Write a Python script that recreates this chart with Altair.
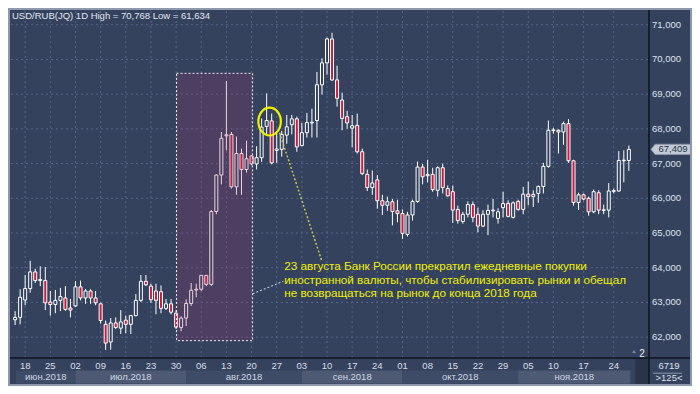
import altair as alt
import pandas as pd

# ---------------- data ----------------
opens = [62.50, 62.57, 63.07, 63.40, 63.88, 63.63, 63.63, 63.01, 62.94, 63.06,
         63.13, 62.84, 62.90, 63.45, 63.13, 63.33, 63.13, 62.96, 62.37, 61.86,
         62.41, 62.26, 62.49, 62.37, 62.62, 63.06, 63.61, 63.47, 63.33, 63.31,
         62.83, 62.96, 62.69, 62.28, 62.55, 62.97, 63.36, 63.38, 63.78, 63.52,
         65.62, 66.67, 67.80, 67.84, 66.33, 67.29, 66.83, 67.22, 66.99, 67.17,
         68.07, 68.23, 67.38, 67.41, 67.82, 68.12, 68.29, 67.52, 67.89, 68.17,
         68.24, 69.27, 69.90, 70.59, 69.41, 68.83, 68.35, 68.02, 68.10, 67.34,
         66.69, 66.31, 66.53, 65.93, 65.80, 65.90, 65.64, 65.56, 64.96, 65.52,
         65.91, 66.90, 66.65, 66.69, 66.23, 66.88, 66.28, 66.19, 65.68, 65.33,
         65.54, 65.82, 65.54, 65.20, 65.54, 65.64, 65.42, 65.73, 65.85, 65.45,
         65.91, 65.68, 66.12, 66.05, 66.14, 66.34, 66.92, 67.95, 67.96, 67.91,
         68.15, 67.08, 65.88, 66.10, 66.00, 65.61, 66.16, 65.65, 65.66, 66.20,
         66.21, 67.08, 67.09]
highs = [62.75, 63.38, 63.79, 64.20, 63.97, 64.04, 64.02, 63.33, 63.36, 63.42,
         63.47, 63.10, 63.61, 63.63, 63.39, 63.38, 63.33, 62.99, 62.48, 62.55,
         62.57, 62.78, 62.62, 62.64, 63.24, 63.79, 63.79, 63.54, 63.54, 63.49,
         63.10, 63.10, 62.78, 62.60, 63.09, 63.56, 63.54, 63.79, 63.79, 65.66,
         66.69, 67.91, 69.38, 67.91, 67.78, 67.43, 67.66, 67.25, 67.50, 68.30,
         69.02, 68.44, 67.94, 67.94, 68.40, 68.40, 68.35, 68.17, 68.46, 68.58,
         69.64, 70.03, 70.63, 70.768, 69.82, 69.04, 68.52, 68.40, 68.44, 67.43,
         66.83, 66.80, 66.67, 66.10, 66.05, 65.98, 65.96, 65.68, 65.61, 65.96,
         67.06, 66.99, 67.11, 66.88, 66.92, 67.00, 66.37, 66.37, 65.79, 65.61,
         65.91, 65.91, 65.73, 65.66, 65.82, 65.98, 65.71, 66.19, 65.94, 65.91,
         65.96, 66.33, 66.48, 66.23, 66.37, 67.02, 68.24, 68.03, 67.98, 68.21,
         68.28, 67.11, 66.16, 66.14, 66.05, 66.25, 66.23, 65.82, 66.44, 66.28,
         67.36, 67.38, 67.52]
lows = [62.35, 62.37, 62.92, 63.28, 63.56, 63.47, 62.78, 62.62, 62.69, 62.75,
        62.76, 62.57, 62.87, 63.06, 62.96, 62.96, 62.92, 62.39, 61.634, 61.64,
        62.23, 62.09, 62.11, 62.09, 62.60, 63.01, 63.47, 62.99, 62.66, 62.69,
        62.78, 62.66, 62.23, 62.17, 62.32, 62.90, 63.15, 63.33, 63.47, 63.47,
        65.54, 66.40, 67.38, 66.28, 66.10, 66.10, 66.74, 66.95, 66.83, 67.05,
        67.80, 66.98, 67.02, 67.20, 67.57, 67.84, 67.34, 67.50, 67.75, 67.75,
        67.75, 68.99, 69.56, 69.38, 68.64, 67.96, 68.00, 67.47, 67.29, 66.67,
        66.21, 66.10, 65.70, 65.52, 65.64, 65.22, 65.31, 64.83, 64.90, 65.36,
        65.87, 66.40, 66.46, 66.19, 66.05, 66.14, 66.05, 65.29, 65.27, 65.27,
        65.45, 65.31, 65.02, 65.17, 64.94, 65.45, 65.27, 65.45, 65.45, 65.42,
        65.64, 65.54, 65.80, 65.75, 65.87, 66.14, 66.88, 67.86, 67.29, 67.54,
        67.02, 65.79, 65.66, 65.94, 65.50, 65.57, 65.54, 65.54, 65.45, 66.14,
        66.19, 66.46, 66.79]
closes = [62.57, 63.15, 63.40, 63.88, 63.63, 63.66, 62.99, 62.94, 63.06, 63.17,
          62.80, 62.78, 63.45, 63.13, 63.33, 63.13, 62.99, 62.48, 61.83, 62.41,
          62.28, 62.44, 62.37, 62.62, 63.06, 63.61, 63.51, 63.08, 63.06, 62.83,
          62.96, 62.72, 62.29, 62.55, 62.97, 63.35, 63.38, 63.78, 63.52, 65.62,
          66.67, 67.73, 67.83, 66.33, 67.29, 66.83, 67.14, 66.99, 67.17, 68.05,
          68.24, 67.02, 67.42, 67.84, 68.06, 68.29, 67.48, 67.89, 68.18, 68.19,
          69.27, 69.90, 70.59, 69.41, 68.88, 68.30, 68.17, 68.09, 67.34, 66.71,
          66.31, 66.44, 65.93, 65.80, 65.90, 65.62, 65.56, 64.99, 65.52, 65.91,
          66.90, 66.62, 66.69, 66.25, 66.88, 66.31, 66.07, 65.66, 65.36, 65.54,
          65.82, 65.45, 65.20, 65.54, 65.65, 65.66, 65.61, 65.85, 65.48, 65.87,
          65.68, 66.12, 66.05, 66.11, 66.34, 66.92, 67.96, 67.97, 67.91, 68.15,
          67.08, 65.88, 66.10, 65.98, 65.61, 66.19, 65.66, 65.67, 66.21, 66.22,
          67.09, 67.10, 67.409]

tick_pos = [2, 7, 12, 17, 22, 27, 32, 37, 42, 47, 52, 57, 62, 67, 72, 77,
            82, 87, 92, 97, 102, 107, 113, 119]
tick_text = ["18", "25", "02", "09", "16", "23", "30", "06", "13", "20", "27",
             "03", "10", "17", "24", "01", "08", "15", "22", "29", "05", "10",
             "17", "24"]
price_ticks = [62, 63, 64, 65, 66, 67, 68, 69, 70, 71]

month_names = ["июн.2018", "июл.2018", "авг.2018", "сен.2018", "окт.2018", "ноя.2018"]
month_start = [0.178, 12, 34, 57, 77, 100]
month_end = [12, 34, 57, 77, 100, 122.3]

annotation_lines = [
    "23 августа Банк России прекратил ежедневные покупки",
    "иностранной валюты, чтобы стабилизировать рынки и обещал",
    "не возвращаться на рынок до конца 2018 года",
]

# ---------------- layout / style ----------------
W, H = 638, 347
X_DOMAIN = [0.178, 125.01]
Y_DOMAIN = [61.40, 71.395]
BG = "#34425e"
RED = "#c41f3e"
GRID = "#56668a"
YELLOW = "#f0f000"
FONT = "Liberation Sans"

ANN_X = 53.5
ANN_Y = [64.05, 63.66, 63.28]
SHADE = dict(x1=32.1, x2=47.21, y1=61.90, y2=69.60)
CIRCLE = dict(x=50.59, y=68.21)
YLINE = dict(x1=52.56, y1=67.89, x2=60.97, y2=64.19)
WLINE = dict(x1=47.21, y1=63.25, x2=53.32, y2=63.61)

XS = alt.Scale(domain=X_DOMAIN, nice=False, zero=False)
YS = alt.Scale(domain=Y_DOMAIN, nice=False, zero=False)


def fmt(v):
    return f"{v:.3f}".replace(".", ",")


def X(field):
    return alt.X(field, type="quantitative", scale=XS, axis=None)


def Y(field):
    return alt.Y(field, type="quantitative", scale=YS, axis=None)


df = pd.DataFrame({"i": list(range(len(opens))), "open": opens, "high": highs,
                   "low": lows, "close": closes})
df["fillc"] = [BG if c >= o else RED for o, c in zip(opens, closes)]

xt = pd.DataFrame({"pos": tick_pos, "lab": tick_text})
yt = pd.DataFrame({"p": price_ticks, "lab": [fmt(p) for p in price_ticks]})

# grid + axis labels drawn through the scales
vgrid = alt.Chart(xt).mark_rule(color=GRID, strokeDash=[2, 3], strokeWidth=1).encode(
    x=X("pos"), y=alt.value(0), y2=alt.value(H))
hgrid = alt.Chart(yt).mark_rule(color=GRID, strokeDash=[2, 3], strokeWidth=1).encode(
    y=Y("p"), x=alt.value(0), x2=alt.value(W))
xlabels = alt.Chart(xt).mark_text(align="center", baseline="middle", font=FONT,
                                  fontSize=9.5, color="#d9dfe9").encode(
    x=X("pos"), y=alt.value(H + 8.2), text="lab:N")
ylabels = alt.Chart(yt).mark_text(align="left", baseline="middle", font=FONT,
                                  fontSize=9.5, color="#dde3ec").encode(
    y=Y("p"), x=alt.value(W + 3), text="lab:N")

base = alt.Chart(df)
wicks = base.mark_rule(color="white", strokeWidth=1, clip=True).encode(
    x=X("i"), y=Y("low"), y2="high:Q")
bodies = base.mark_bar(size=3, stroke="white", strokeWidth=1, clip=True).encode(
    x=X("i"), y=Y("open"), y2="close:Q", fill=alt.Fill("fillc:N", scale=None))

shade = alt.Chart(pd.DataFrame([SHADE])).mark_rect(
    fill="#a8386e", fillOpacity=0.22, stroke="white", strokeOpacity=0.9,
    strokeDash=[2, 2], strokeWidth=1).encode(
    x=X("x1"), x2="x2:Q", y=Y("y1"), y2="y2:Q")

wline = alt.Chart(pd.DataFrame([WLINE])).mark_rule(
    color="#c4cad8", strokeDash=[2, 2], strokeWidth=1.2).encode(
    x=X("x1"), x2="x2:Q", y=Y("y1"), y2="y2:Q")
yline = alt.Chart(pd.DataFrame([YLINE])).mark_rule(
    color="#c8c850", strokeDash=[2, 2], strokeWidth=1.5).encode(
    x=X("x1"), x2="x2:Q", y=Y("y1"), y2="y2:Q")

k = 0.5523
a = 0.81
ell = (f"M{a},0 C{a},{k} {k*a:.4f},1 0,1 C{-k*a:.4f},1 {-a},{k} {-a},0 "
       f"C{-a},{-k} {-k*a:.4f},-1 0,-1 C{k*a:.4f},-1 {a},{-k} {a},0 Z")
circle = alt.Chart(pd.DataFrame([CIRCLE])).mark_point(
    shape=ell, size=773, filled=False, stroke=YELLOW, strokeWidth=2.2, opacity=1).encode(
    x=X("x"), y=Y("y"))

ann = alt.Chart(pd.DataFrame({"t": annotation_lines, "x": [ANN_X] * 3, "y": ANN_Y})).mark_text(
    align="left", baseline="middle", font=FONT, fontSize=11.7, color=YELLOW).encode(
    x=X("x"), y=Y("y"), text="t:N")

one = pd.DataFrame({"a": [0]})
title = alt.Chart(one).mark_text(
    text=f"USD/RUB(JQ) 1D  High = {fmt(max(highs))}  Low = {fmt(min(lows))}",
    align="left", baseline="middle", font=FONT, fontSize=9.5, color="#e2e7ef").encode(
    x=alt.value(1), y=alt.value(5))

mdf = pd.DataFrame({"name": month_names, "start": month_start, "end": month_end,
                    "col": ["#3d4b67", "#4e5a74"] * 3})
mbands = alt.Chart(mdf).mark_rect().encode(
    x=X("start"), x2="end:Q",
    y=alt.value(H + 12.5), y2=alt.value(H + 25.6), fill=alt.Fill("col:N", scale=None))
mlabels = alt.Chart(mdf).transform_calculate(mid="(datum.start + datum.end) / 2").mark_text(
    align="center", baseline="middle", font=FONT, fontSize=9.5, color="#cfd6e2").encode(
    x=X("mid"), y=alt.value(H + 19.2), text="name:N")

corner_box = alt.Chart(one).mark_rect(fill="#29344b").encode(
    x=alt.value(W - 13.6), x2=alt.value(W), y=alt.value(H + 1), y2=alt.value(H + 26))
sep_v = alt.Chart(one).mark_rule(color="#0e1420", strokeWidth=1.5).encode(
    x=alt.value(W), y=alt.value(-2), y2=alt.value(H + 27))
sep_h = alt.Chart(one).mark_rule(color="#0e1420", strokeWidth=1.5).encode(
    y=alt.value(H), x=alt.value(-2), x2=alt.value(W + 42))
frame = alt.Chart(one).mark_rect(fill="transparent", stroke="#8e99ab", strokeWidth=2).encode(
    x=alt.value(-2), x2=alt.value(W + 42), y=alt.value(-2), y2=alt.value(H + 27))

two = alt.Chart(one).mark_text(text="2", align="center", baseline="middle", font=FONT,
                               fontSize=10, color="#e8ecf2").encode(
    x=alt.value(W - 7), y=alt.value(H - 4.5))
tri = alt.Chart(one).mark_point(shape="triangle-up", size=14, filled=True,
                                color="#7d8aa3", opacity=1).encode(
    x=alt.value(W - 15), y=alt.value(H - 6.5))
vol1 = alt.Chart(one).mark_text(text="6719", align="center", baseline="middle", font=FONT,
                                fontSize=9.5, color="#dde3ec").encode(
    x=alt.value(W + 20), y=alt.value(H + 7.7))
vol_line = alt.Chart(one).mark_rule(color="#8e99ab", strokeWidth=1).encode(
    x=alt.value(W + 4), x2=alt.value(W + 33), y=alt.value(H + 15.2))
vol2 = alt.Chart(one).mark_text(text=">125<", align="center", baseline="middle", font=FONT,
                                fontSize=9.5, color="#dde3ec").encode(
    x=alt.value(W + 20), y=alt.value(H + 19.5))

last = pd.DataFrame({"close": [closes[-1]], "label": [fmt(closes[-1])]})
tag_shape = "M-1,0 L-0.8,-0.25 L1,-0.25 L1,0.25 L-0.8,0.25 Z"
tag = alt.Chart(last).mark_point(shape=tag_shape, size=1681, filled=True, fill="#c3cad6",
                                 stroke="#8a94a8", strokeWidth=1, opacity=1).encode(
    x=alt.value(W + 22.5), y=Y("close"))
tag_text = alt.Chart(last).mark_text(align="center", baseline="middle", font=FONT,
                                     fontSize=9.5, color="#25314a").encode(
    x=alt.value(W + 24), y=Y("close"), text="label:N")

chart = alt.layer(
    vgrid, hgrid, wicks, bodies, shade, wline, yline, circle, ann, title,
    mbands, mlabels, xlabels, ylabels, corner_box, sep_v, sep_h, two, tri,
    vol1, vol_line, vol2, tag, tag_text, frame,
).properties(
    width=W, height=H,
    background=BG,
    padding={"left": 3, "top": 3, "right": 43, "bottom": 28},
    autosize=alt.AutoSizeParams(type="none"),
).configure_view(fill=BG, strokeWidth=0)

chart.save("out.html", embed_options={"renderer": "svg", "actions": False})
